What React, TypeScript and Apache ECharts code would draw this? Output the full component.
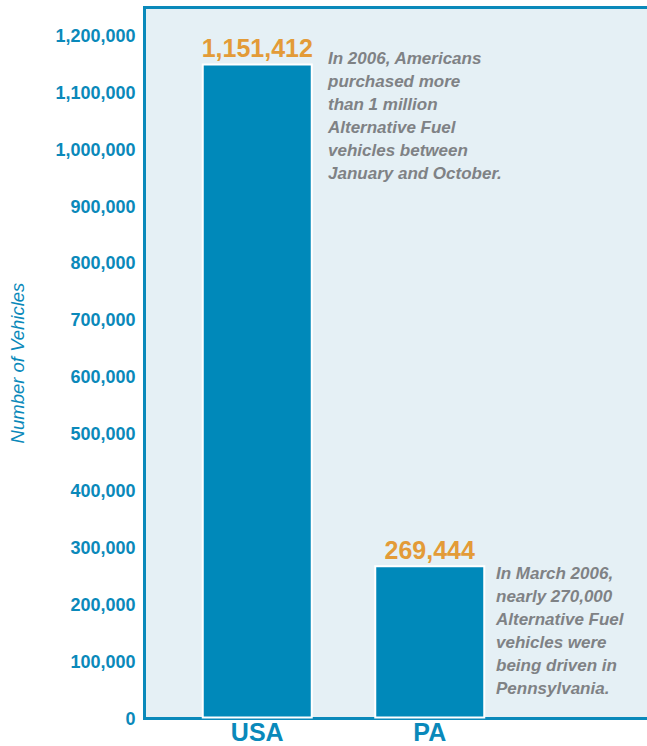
import React, { useEffect, useRef } from "react";
import * as echarts from "echarts";

const categories = ["USA", "PA"];
const vehicles = [1151412, 269444];
const yMin = 0;
const yMax = 1250000;
const yInterval = 100000;
const yAxisTitle = "Number of Vehicles";
const noteUSA = [
  "In 2006, Americans",
  "purchased more",
  "than 1 million",
  "Alternative Fuel",
  "vehicles between",
  "January and October.",
];
const notePA = [
  "In March 2006,",
  "nearly 270,000",
  "Alternative Fuel",
  "vehicles were",
  "being driven in",
  "Pennsylvania.",
];

const fmt = (v: number) => Number(v).toLocaleString("en-US");

export default function App() {
  const ref = useRef<HTMLDivElement>(null);
  useEffect(() => {
    if (!ref.current) return;
    const chart = echarts.init(ref.current, undefined, { renderer: "svg" });
    const blue = "#0a89ba";
    const noteStyle = {
      fill: "#7f8285",
      fontSize: 17,
      fontStyle: "italic" as const,
      fontWeight: "bold" as const,
      fontFamily: "Liberation Sans, Arial, sans-serif",
      lineHeight: 23,
      verticalAlign: "top" as const,
      align: "left" as const,
    };
    chart.setOption({
      animation: false,
      backgroundColor: "#ffffff",
      grid: [
        {
          left: 144.5,
          top: 7.5,
          right: -10,
          bottom: 27.5,
          show: true,
          outerBoundsMode: "none",
          containLabel: false,
          backgroundColor: "#e5f0f5",
          borderColor: blue,
          borderWidth: 3,
        },
        {
          left: 171,
          right: 131,
          top: 7.5,
          bottom: 27.5,
          outerBoundsMode: "none",
          containLabel: false,
        },
      ],
      xAxis: [
        { gridIndex: 0, type: "category", data: [""], show: false },
        {
          gridIndex: 1,
          type: "category",
          data: categories,
          axisLine: { show: false },
          axisTick: { show: false },
          splitLine: { show: false },
          axisLabel: {
            color: blue,
            fontSize: 25,
            lineHeight: 23,
            fontWeight: "bold",
            fontFamily: "Liberation Sans Narrow, Liberation Sans, Arial, sans-serif",
            margin: 2,
          },
        },
      ],
      yAxis: [
        {
          gridIndex: 0,
          type: "value",
          min: yMin,
          max: yMax,
          interval: yInterval,
          axisLine: { show: false },
          axisTick: { show: false },
          splitLine: { show: false },
          axisLabel: {
            color: blue,
            fontSize: 18,
            fontWeight: "bold",
            fontFamily: "Liberation Sans, Arial, sans-serif",
            margin: 9,
            showMaxLabel: false,
            formatter: (v: number) => fmt(v),
          },
          name: yAxisTitle,
          nameLocation: "middle",
          nameRotate: 90,
          nameGap: 118,
          nameTextStyle: {
            color: blue,
            fontSize: 18.5,
            fontStyle: "italic",
            fontFamily: "Liberation Sans, Arial, sans-serif",
          },
        },
        {
          gridIndex: 1,
          type: "value",
          min: yMin,
          max: yMax,
          interval: yInterval,
          show: false,
          splitLine: { show: false },
        },
      ],
      series: [
        {
          type: "bar",
          xAxisIndex: 1,
          yAxisIndex: 1,
          data: vehicles,
          barWidth: 111,
          itemStyle: { color: "#0089ba", borderColor: "#ffffff", borderWidth: 2 },
          label: {
            show: true,
            position: "top",
            distance: 3,
            color: "#e39b37",
            fontSize: 25,
            fontWeight: "bold",
            fontFamily: "Liberation Sans, Arial, sans-serif",
            formatter: (p: any) => fmt(p.value),
          },
        },
      ],
      graphic: [
        { type: "text", left: 328, top: 47, style: { ...noteStyle, text: noteUSA.join("\n") } },
        { type: "text", left: 496, top: 562, style: { ...noteStyle, text: notePA.join("\n") } },
      ],
    });
    return () => chart.dispose();
  }, []);
  return (
    <div
      ref={ref}
      style={{ position: "fixed", left: 0, top: 0, width: 647, height: 746 }}
    />
  );
}
